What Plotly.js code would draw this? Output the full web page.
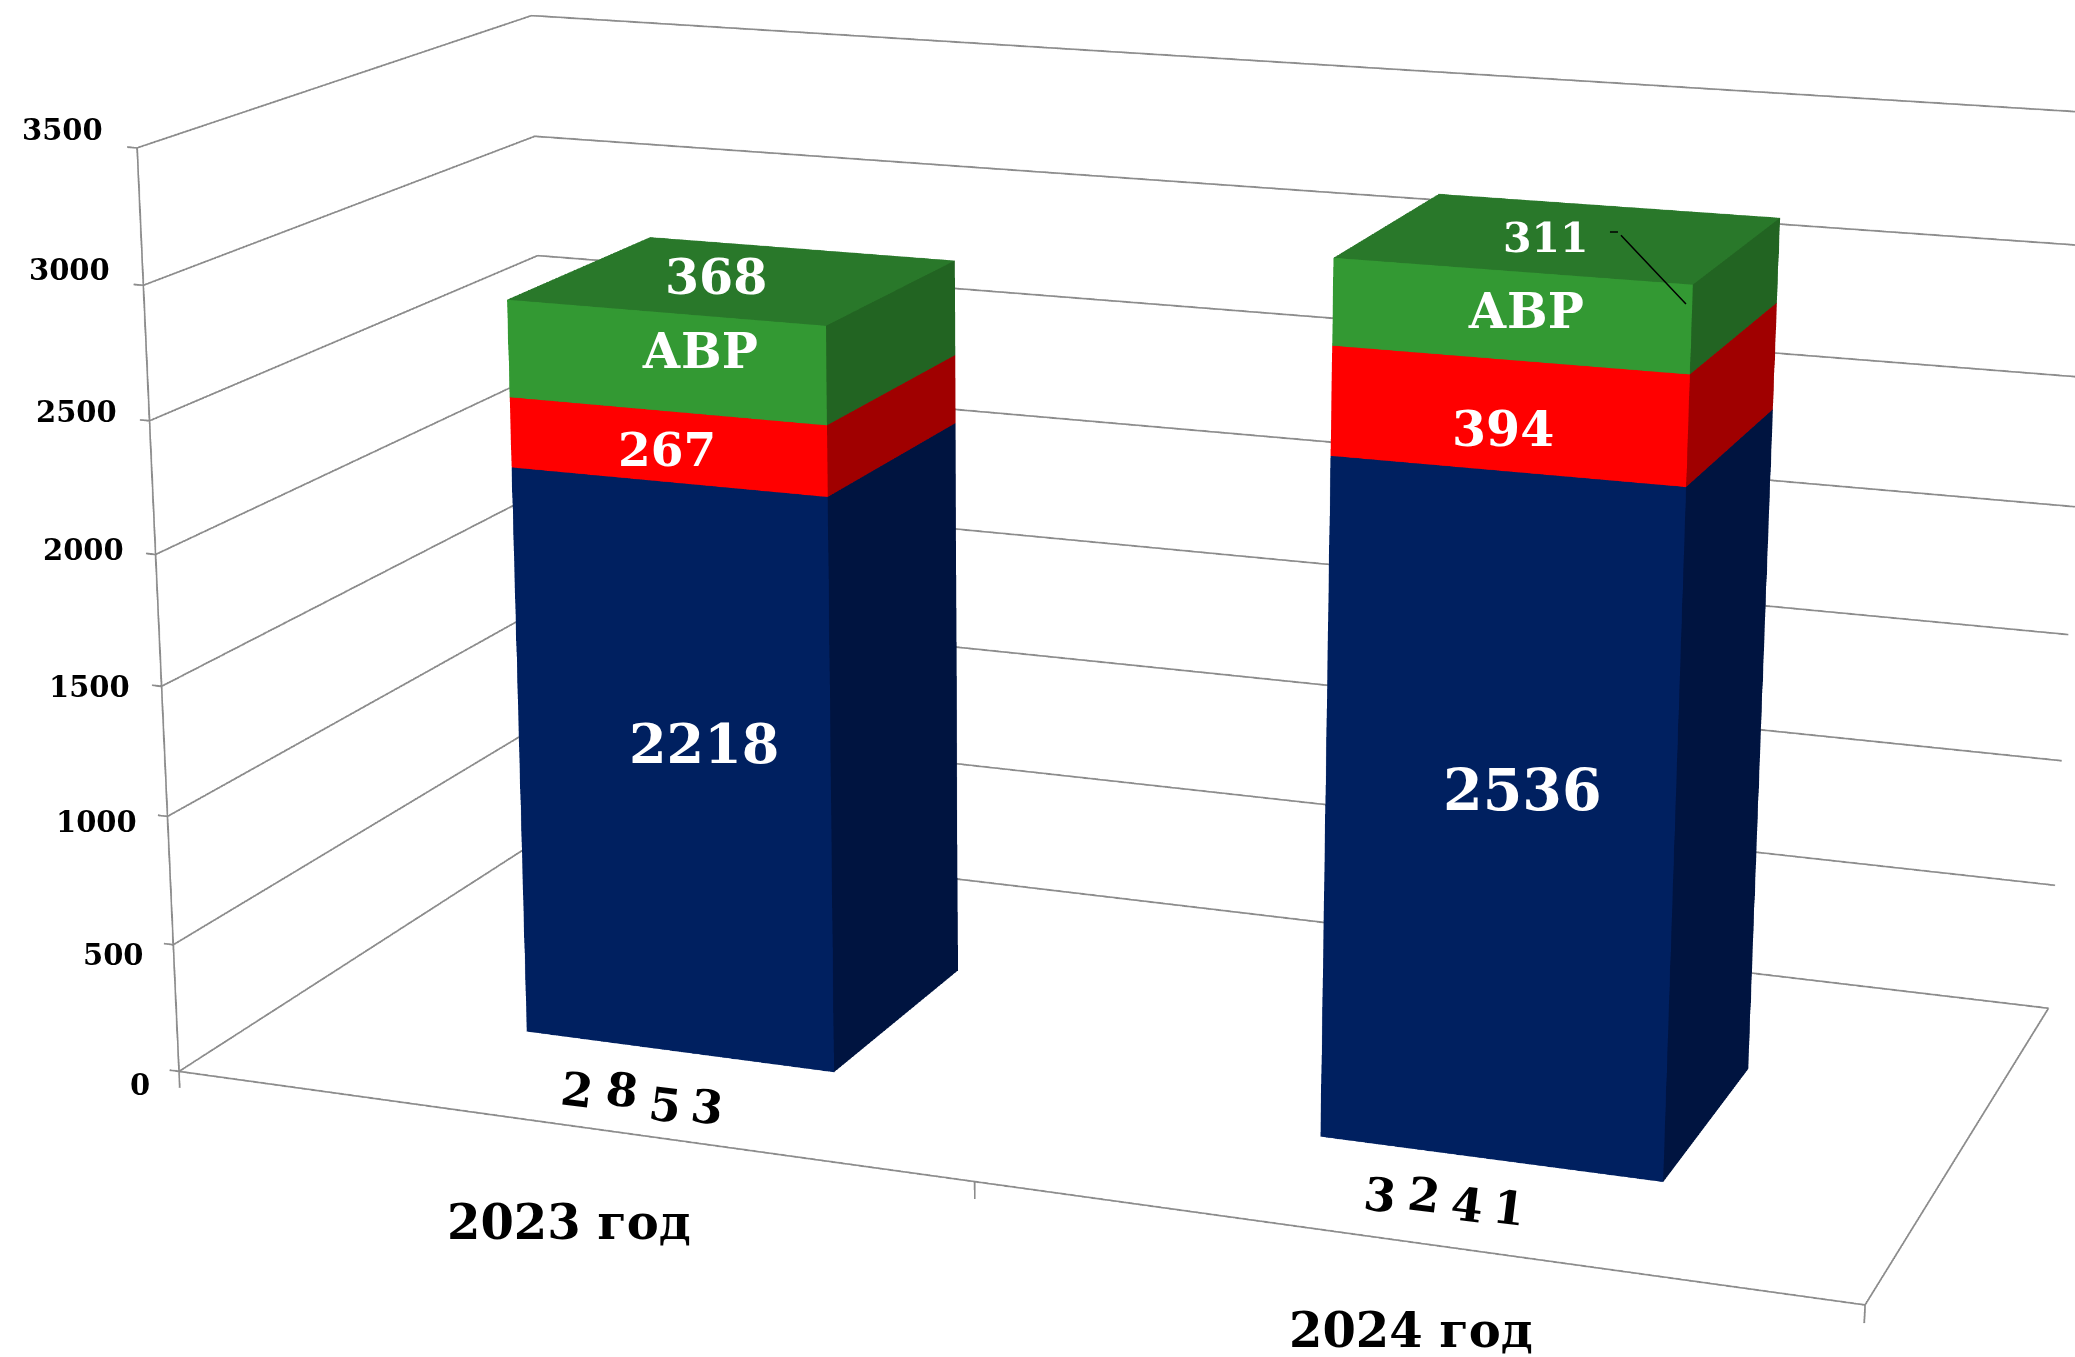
<!DOCTYPE html><html><head><meta charset="utf-8"><script src="https://cdn.plot.ly/plotly-3.0.1.min.js"></script>
<style>html,body{margin:0;padding:0;background:#fff;overflow:hidden;width:2075px;height:1357px}#p{position:absolute}</style></head><body><div id="p"></div>
<script>
const categories=['2023 год','2024 год'];
const blueValues=[2218,2536];
const redValues=[267,394];
const greenValues=[368,311];
const totals=[2853,3241];
const greenName='АВР';
const zTicks=[0,500,1000,1500,2000,2500,3000,3500];

const XR=[-0.06,2.01],YR=[-0.005,1.005],ZR=[-140,3510];
const COL={blue:['#002060','#001440','#002060'],red:['#ff0000','#a00000','#c00000'],green:['#339933','#226422','#29782a']};
// camera: eye xyz, center x z, focal px, principal point xy, aspect x y
const th=[1.8641,-5.0932,1.4698,-0.0781,-0.0799,5499.1541,1039.4519,677.8921,1.8166,0.8876];
const BAR={l:[0.3188,1.3141],r:[0.7167,1.7126],f:0.27,k:0.6612};

function sub(a,b){return[a[0]-b[0],a[1]-b[1],a[2]-b[2]]}
function dot(a,b){return a[0]*b[0]+a[1]*b[1]+a[2]*b[2]}
function cross(a,b){return[a[1]*b[2]-a[2]*b[1],a[2]*b[0]-a[0]*b[2],a[0]*b[1]-a[1]*b[0]]}
function norm(a){const l=Math.sqrt(dot(a,a));return[a[0]/l,a[1]/l,a[2]/l]}
// where the scene puts a data point on the page; used only to place text offsets
function proj(t){const x=t[0],y=t[1],z=t[2];
 const p=[th[8]*((x-XR[0])/(XR[1]-XR[0])-.5),th[9]*((y-YR[0])/(YR[1]-YR[0])-.5),(z-ZR[0])/(ZR[1]-ZR[0])-.5];
 const E=[th[0],th[1],th[2]],C=[th[3],0,th[4]];const f=norm(sub(C,E)),r=norm(cross(f,[0,0,1])),u=cross(r,f);const d=sub(p,E);const zc=dot(d,f);
 return[th[6]+th[5]*dot(d,r)/zc,th[7]-th[5]*dot(d,u)/zc]}

const SER='DejaVu Serif',TAN=Math.tan(Math.PI/8);
const H=Math.ceil(2*th[5]*TAN),W=Math.ceil(2*Math.max(th[6],2075-th[6]))+4;
const el=document.getElementById('p');el.style.left=(th[6]-W/2)+'px';el.style.top=(th[7]-H/2)+'px';

function meshSeries(name,vals,base,cols){const x=[],y=[],z=[],i=[],j=[],k=[],fc=[];
 function quad(a,b,c,d,col){const n=x.length;[a,b,c,d].forEach(p=>{x.push(p[0]);y.push(p[1]);z.push(p[2])});i.push(n,n);j.push(n+1,n+2);k.push(n+2,n+3);fc.push(col,col)}
 vals.forEach((v,n)=>{const l=BAR.l[n],r=BAR.r[n],f=BAR.f,b=BAR.k,z0=base[n],z1=base[n]+v;
  quad([l,f,z0],[r,f,z0],[r,f,z1],[l,f,z1],cols[0]);
  quad([r,f,z0],[r,b,z0],[r,b,z1],[r,f,z1],cols[1]);
  quad([l,f,z1],[r,f,z1],[r,b,z1],[l,b,z1],cols[2]);});
 return {type:'mesh3d',name,x,y,z,i,j,k,facecolor:fc,flatshading:true,hoverinfo:'skip',lighting:{ambient:1,diffuse:0,specular:0,roughness:1,fresnel:0}}}
const b0=blueValues.map(()=>0),b1=blueValues.slice(),b2=blueValues.map((v,n)=>v+redValues[n]);

const gx=[],gy=[],gz=[];
zTicks.forEach(t=>{gx.push(-.0125,0,0,2,null);gy.push(0,0,1,1,null);gz.push(t,t,t,t,null)});
gx.push(0,2,2,null,0,0,null,0,0,null);gy.push(0,0,1,null,0,0,null,0,1,null);gz.push(0,0,0,null,0,3500,null,0,0,null);
[0,1,2].forEach(v=>{gx.push(v,v,null);gy.push(0,0,null);gz.push(0,-65,null)});
const traces=[{type:'scatter3d',mode:'lines',x:gx,y:gy,z:gz,line:{color:'#8c8c8c',width:3.5},hoverinfo:'skip'},
 meshSeries('blue',blueValues,b0,COL.blue),meshSeries('red',redValues,b1,COL.red),meshSeries(greenName,greenValues,b2,COL.green)];

const ann=[];
function A(x,y,z,text,size,color,tx,ty,extra){const a=proj([x,y,z]);ann.push(Object.assign({x,y,z,text:'<b>'+text+'</b>',showarrow:false,font:{family:SER,size,color},xshift:tx-a[0],yshift:a[1]-ty},extra||{}))}
const tickRight=[152,146,139,132,126,119,112,105],tickY=[1085,955,822,687,550,412,270,130];
zTicks.forEach((t,n)=>A(0,0,t,String(t),29,'#000',tickRight[n],tickY[n],{xanchor:'right'}));
const mid=n=>(BAR.l[n]+BAR.r[n])/2,ym=(BAR.f+BAR.k)/2;
A(mid(0),BAR.f,blueValues[0]/2,blueValues[0],54,'#fff',704,744);
A(mid(1),BAR.f,blueValues[1]/2,blueValues[1],57,'#fff',1523,789);
A(mid(0),BAR.f,b1[0]+redValues[0]/2,redValues[0],47,'#fff',667,449);
A(mid(1),BAR.f,b1[1]+redValues[1]/2,redValues[1],49,'#fff',1503,429);
A(mid(0),BAR.f,b2[0]+greenValues[0]/2,greenName,48,'#fff',700,351);
A(mid(1),BAR.f,b2[1]+greenValues[1]/2,greenName,48,'#fff',1526,311);
A(mid(0),ym,totals[0],greenValues[0],49,'#fff',716,277);
A(mid(1),ym,totals[1],greenValues[1],41,'#fff',1546,238);
const digitXY=[[[577,1090],[622,1090],[665,1105],[707,1107]],[[1380,1195],[1424,1195],[1467,1205],[1509,1208]]];
totals.forEach((t,n)=>String(t).split('').forEach((d,m)=>A(mid(n),BAR.f,0,d,46,'#000',digitXY[n][m][0],digitXY[n][m][1],{textangle:7})));
A(.5,0,0,categories[0],48,'#000',569,1222);
A(1.5,0,0,categories[1],48,'#000',1411,1330);
const lx=1.7,lz=3171,la=proj([lx,BAR.f,lz]);
ann.push({x:lx,y:BAR.f,z:lz,text:' ',showarrow:true,arrowhead:0,arrowwidth:1.5,arrowcolor:'#000',ax:-68,ay:-72,standoff:0,xshift:1686-la[0],yshift:la[1]-304});
ann.push({x:lx,y:BAR.f,z:lz,text:' ',showarrow:true,arrowhead:0,arrowwidth:1.5,arrowcolor:'#000',ax:-11,ay:0,xshift:1618-la[0],yshift:la[1]-232,standoff:0});

Plotly.newPlot(el,traces,{width:W,height:H,margin:{l:0,r:0,t:0,b:0},showlegend:false,paper_bgcolor:'#fff',
 scene:{bgcolor:'#fff',domain:{x:[0,1],y:[0,1]},aspectmode:'manual',aspectratio:{x:th[8],y:th[9],z:1},
  camera:{eye:{x:th[0],y:th[1],z:th[2]},center:{x:th[3],y:0,z:th[4]},up:{x:0,y:0,z:1},projection:{type:'perspective'}},
  xaxis:{visible:false,range:XR},yaxis:{visible:false,range:YR},zaxis:{visible:false,range:ZR},annotations:ann}},
 {displayModeBar:false,plotGlPixelRatio:1.75});
</script></body></html>
